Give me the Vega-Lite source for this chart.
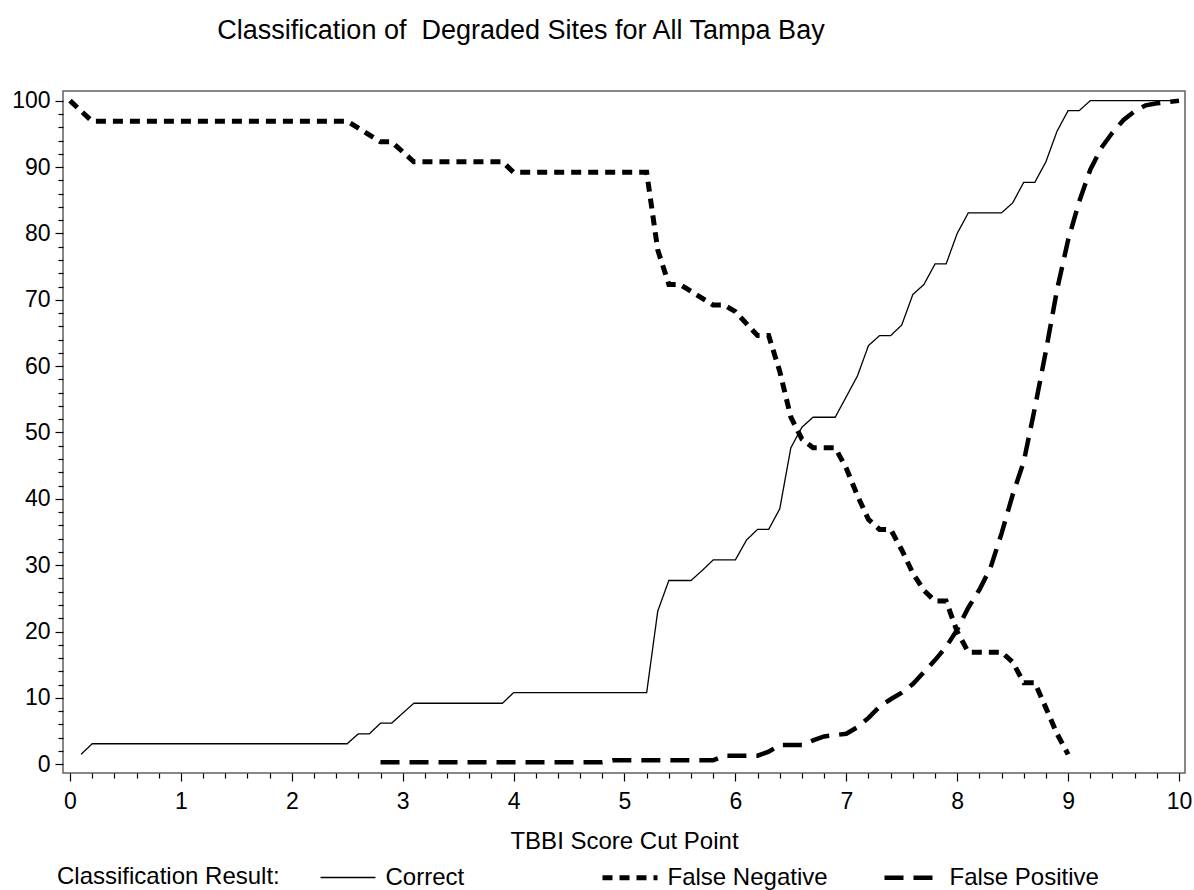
{
  "$schema": "https://vega.github.io/schema/vega-lite/v6.json",
  "autosize": {"type": "none"},
  "padding": {"left": 63, "top": 91, "right": 9, "bottom": 117},
  "width": 1122,
  "height": 682,
  "background": "white",
  "title": {
    "text": "Classification of\u00a0 Degraded Sites for All Tampa Bay",
    "font": "Liberation Sans",
    "fontSize": 27,
    "fontWeight": "normal",
    "color": "black",
    "anchor": "middle",
    "frame": "group",
    "dx": -103,
    "offset": 45
  },
  "data": {
    "values": [
      {"result": "Correct", "cut": 0.1, "pct": 1.5},
      {"result": "Correct", "cut": 0.2, "pct": 3.1},
      {"result": "Correct", "cut": 2.5, "pct": 3.1},
      {"result": "Correct", "cut": 2.6, "pct": 4.6},
      {"result": "Correct", "cut": 2.7, "pct": 4.6},
      {"result": "Correct", "cut": 2.8, "pct": 6.2},
      {"result": "Correct", "cut": 2.9, "pct": 6.2},
      {"result": "Correct", "cut": 3.0, "pct": 7.7},
      {"result": "Correct", "cut": 3.1, "pct": 9.2},
      {"result": "Correct", "cut": 3.9, "pct": 9.2},
      {"result": "Correct", "cut": 4.0, "pct": 10.8},
      {"result": "Correct", "cut": 5.2, "pct": 10.8},
      {"result": "Correct", "cut": 5.3, "pct": 23.1},
      {"result": "Correct", "cut": 5.4, "pct": 27.7},
      {"result": "Correct", "cut": 5.6, "pct": 27.7},
      {"result": "Correct", "cut": 5.7, "pct": 29.2},
      {"result": "Correct", "cut": 5.8, "pct": 30.8},
      {"result": "Correct", "cut": 6.0, "pct": 30.8},
      {"result": "Correct", "cut": 6.1, "pct": 33.8},
      {"result": "Correct", "cut": 6.2, "pct": 35.4},
      {"result": "Correct", "cut": 6.3, "pct": 35.4},
      {"result": "Correct", "cut": 6.4, "pct": 38.5},
      {"result": "Correct", "cut": 6.5, "pct": 47.7},
      {"result": "Correct", "cut": 6.6, "pct": 50.8},
      {"result": "Correct", "cut": 6.7, "pct": 52.3},
      {"result": "Correct", "cut": 6.9, "pct": 52.3},
      {"result": "Correct", "cut": 7.0, "pct": 55.4},
      {"result": "Correct", "cut": 7.1, "pct": 58.5},
      {"result": "Correct", "cut": 7.2, "pct": 63.1},
      {"result": "Correct", "cut": 7.3, "pct": 64.6},
      {"result": "Correct", "cut": 7.4, "pct": 64.6},
      {"result": "Correct", "cut": 7.5, "pct": 66.2},
      {"result": "Correct", "cut": 7.6, "pct": 70.8},
      {"result": "Correct", "cut": 7.7, "pct": 72.3},
      {"result": "Correct", "cut": 7.8, "pct": 75.4},
      {"result": "Correct", "cut": 7.9, "pct": 75.4},
      {"result": "Correct", "cut": 8.0, "pct": 80.0},
      {"result": "Correct", "cut": 8.1, "pct": 83.1},
      {"result": "Correct", "cut": 8.4, "pct": 83.1},
      {"result": "Correct", "cut": 8.5, "pct": 84.6},
      {"result": "Correct", "cut": 8.6, "pct": 87.7},
      {"result": "Correct", "cut": 8.7, "pct": 87.7},
      {"result": "Correct", "cut": 8.8, "pct": 90.8},
      {"result": "Correct", "cut": 8.9, "pct": 95.4},
      {"result": "Correct", "cut": 9.0, "pct": 98.5},
      {"result": "Correct", "cut": 9.1, "pct": 98.5},
      {"result": "Correct", "cut": 9.2, "pct": 100},
      {"result": "Correct", "cut": 10.0, "pct": 100},

      {"result": "False Negative", "cut": 0.0, "pct": 100},
      {"result": "False Negative", "cut": 0.2, "pct": 96.9},
      {"result": "False Negative", "cut": 2.5, "pct": 96.9},
      {"result": "False Negative", "cut": 2.8, "pct": 93.8},
      {"result": "False Negative", "cut": 2.9, "pct": 93.8},
      {"result": "False Negative", "cut": 3.1, "pct": 90.8},
      {"result": "False Negative", "cut": 3.9, "pct": 90.8},
      {"result": "False Negative", "cut": 4.0, "pct": 89.2},
      {"result": "False Negative", "cut": 5.2, "pct": 89.2},
      {"result": "False Negative", "cut": 5.3, "pct": 77.5},
      {"result": "False Negative", "cut": 5.4, "pct": 72.3},
      {"result": "False Negative", "cut": 5.5, "pct": 72.3},
      {"result": "False Negative", "cut": 5.8, "pct": 69.2},
      {"result": "False Negative", "cut": 5.9, "pct": 69.2},
      {"result": "False Negative", "cut": 6.0, "pct": 68.2},
      {"result": "False Negative", "cut": 6.2, "pct": 64.6},
      {"result": "False Negative", "cut": 6.3, "pct": 64.6},
      {"result": "False Negative", "cut": 6.4, "pct": 59.2},
      {"result": "False Negative", "cut": 6.5, "pct": 52.3},
      {"result": "False Negative", "cut": 6.6, "pct": 49.0},
      {"result": "False Negative", "cut": 6.7, "pct": 47.7},
      {"result": "False Negative", "cut": 6.9, "pct": 47.7},
      {"result": "False Negative", "cut": 7.0, "pct": 44.6},
      {"result": "False Negative", "cut": 7.1, "pct": 40.5},
      {"result": "False Negative", "cut": 7.2, "pct": 36.9},
      {"result": "False Negative", "cut": 7.3, "pct": 35.4},
      {"result": "False Negative", "cut": 7.4, "pct": 35.4},
      {"result": "False Negative", "cut": 7.5, "pct": 32.3},
      {"result": "False Negative", "cut": 7.6, "pct": 28.8},
      {"result": "False Negative", "cut": 7.7, "pct": 26.2},
      {"result": "False Negative", "cut": 7.8, "pct": 24.6},
      {"result": "False Negative", "cut": 7.9, "pct": 24.6},
      {"result": "False Negative", "cut": 8.0, "pct": 20.0},
      {"result": "False Negative", "cut": 8.1, "pct": 16.9},
      {"result": "False Negative", "cut": 8.4, "pct": 16.9},
      {"result": "False Negative", "cut": 8.5, "pct": 15.4},
      {"result": "False Negative", "cut": 8.6, "pct": 12.3},
      {"result": "False Negative", "cut": 8.7, "pct": 12.3},
      {"result": "False Negative", "cut": 8.8, "pct": 8.5},
      {"result": "False Negative", "cut": 8.9, "pct": 4.6},
      {"result": "False Negative", "cut": 9.0, "pct": 1.5},

      {"result": "False Positive", "cut": 2.8, "pct": 0.3},
      {"result": "False Positive", "cut": 4.8, "pct": 0.3},
      {"result": "False Positive", "cut": 4.9, "pct": 0.6},
      {"result": "False Positive", "cut": 5.8, "pct": 0.6},
      {"result": "False Positive", "cut": 5.9, "pct": 1.3},
      {"result": "False Positive", "cut": 6.2, "pct": 1.3},
      {"result": "False Positive", "cut": 6.3, "pct": 1.9},
      {"result": "False Positive", "cut": 6.4, "pct": 2.9},
      {"result": "False Positive", "cut": 6.6, "pct": 2.9},
      {"result": "False Positive", "cut": 6.7, "pct": 3.6},
      {"result": "False Positive", "cut": 6.8, "pct": 4.2},
      {"result": "False Positive", "cut": 7.0, "pct": 4.6},
      {"result": "False Positive", "cut": 7.1, "pct": 5.6},
      {"result": "False Positive", "cut": 7.2, "pct": 7.0},
      {"result": "False Positive", "cut": 7.3, "pct": 8.7},
      {"result": "False Positive", "cut": 7.4, "pct": 9.8},
      {"result": "False Positive", "cut": 7.5, "pct": 10.8},
      {"result": "False Positive", "cut": 7.6, "pct": 12.1},
      {"result": "False Positive", "cut": 7.7, "pct": 13.9},
      {"result": "False Positive", "cut": 7.8, "pct": 15.7},
      {"result": "False Positive", "cut": 7.9, "pct": 17.7},
      {"result": "False Positive", "cut": 8.0, "pct": 20.3},
      {"result": "False Positive", "cut": 8.1, "pct": 23.6},
      {"result": "False Positive", "cut": 8.2, "pct": 26.3},
      {"result": "False Positive", "cut": 8.3, "pct": 29.6},
      {"result": "False Positive", "cut": 8.4, "pct": 34.8},
      {"result": "False Positive", "cut": 8.5, "pct": 40.6},
      {"result": "False Positive", "cut": 8.6, "pct": 45.6},
      {"result": "False Positive", "cut": 8.7, "pct": 53.7},
      {"result": "False Positive", "cut": 8.8, "pct": 62.3},
      {"result": "False Positive", "cut": 8.9, "pct": 71.5},
      {"result": "False Positive", "cut": 9.0, "pct": 79.0},
      {"result": "False Positive", "cut": 9.1, "pct": 84.8},
      {"result": "False Positive", "cut": 9.2, "pct": 89.6},
      {"result": "False Positive", "cut": 9.3, "pct": 92.9},
      {"result": "False Positive", "cut": 9.4, "pct": 95.2},
      {"result": "False Positive", "cut": 9.5, "pct": 97.1},
      {"result": "False Positive", "cut": 9.6, "pct": 98.4},
      {"result": "False Positive", "cut": 9.7, "pct": 99.3},
      {"result": "False Positive", "cut": 9.8, "pct": 99.6},
      {"result": "False Positive", "cut": 9.9, "pct": 99.8},
      {"result": "False Positive", "cut": 10.0, "pct": 100}
    ]
  },
  "layer": [
    {
      "mark": {"type": "line", "color": "black", "strokeCap": "butt", "strokeJoin": "miter"},
      "encoding": {
        "x": {
          "field": "cut", "type": "quantitative",
          "scale": {"domain": [-0.063, 10.054], "nice": false, "zero": false},
          "axis": {
            "orient": "bottom",
            "values": [0, 1, 2, 3, 4, 5, 6, 7, 8, 9, 10],
            "format": "d",
            "title": "TBBI Score Cut Point",
            "titleFont": "Liberation Sans", "titleFontSize": 24, "titleFontWeight": "normal", "titleColor": "black",
            "titlePadding": 16,
            "labelFont": "Liberation Sans", "labelFontSize": 23, "labelColor": "black",
            "labelPadding": 9, "labelFlush": false, "labelOverlap": false,
            "tickSize": 8, "tickColor": "black", "tickWidth": 1.2,
            "domain": false, "grid": false
          }
        },
        "y": {
          "field": "pct", "type": "quantitative",
          "scale": {"domain": [-1.31, 101.46], "nice": false, "zero": false},
          "axis": {
            "orient": "left",
            "values": [0, 10, 20, 30, 40, 50, 60, 70, 80, 90, 100],
            "format": "d",
            "title": null,
            "labelFont": "Liberation Sans", "labelFontSize": 23, "labelColor": "black",
            "labelPadding": 5, "labelFlush": false, "labelOverlap": false,
            "tickSize": 8, "tickColor": "black", "tickWidth": 1.2,
            "domain": false, "grid": false
          }
        },
        "strokeDash": {
          "field": "result", "type": "nominal",
          "scale": {"domain": ["Correct", "False Negative", "False Positive"], "range": [[1, 0], [10, 7], [19, 10]]},
          "legend": {
            "orient": "none", "legendX": -6, "legendY": 774,
            "direction": "horizontal", "columns": 3,
            "title": "Classification Result:",
            "titleOrient": "left",
            "titleFont": "Liberation Sans", "titleFontSize": 24, "titleFontWeight": "normal", "titleColor": "black",
            "titlePadding": 38, "titleLimit": 500,
            "labelFont": "Liberation Sans", "labelFontSize": 24, "labelColor": "black", "labelLimit": 500,
            "labelOffset": 25,
            "symbolType": "M-2.75,0H2.75", "symbolSize": 400, "symbolOffset": 17.5, "symbolStrokeColor": "black",
            "gridAlign": "all", "columnPadding": 46
          }
        },
        "strokeWidth": {
          "field": "result", "type": "nominal",
          "scale": {"type": "ordinal", "domain": ["Correct", "False Negative", "False Positive"], "range": [1.3, 5, 4.5]},
          "legend": {
            "orient": "none", "legendX": -6, "legendY": 774,
            "direction": "horizontal", "columns": 3,
            "title": "Classification Result:",
            "titleOrient": "left",
            "titleFont": "Liberation Sans", "titleFontSize": 24, "titleFontWeight": "normal", "titleColor": "black",
            "titlePadding": 38, "titleLimit": 500,
            "labelFont": "Liberation Sans", "labelFontSize": 24, "labelColor": "black", "labelLimit": 500,
            "labelOffset": 25,
            "symbolType": "M-2.75,0H2.75", "symbolSize": 400, "symbolOffset": 17.5, "symbolStrokeColor": "black",
            "gridAlign": "all", "columnPadding": 46
          }
        }
      }
    },
    {
      "mark": {"type": "point", "opacity": 0},
      "encoding": {
        "x": {
          "field": "cut", "type": "quantitative",
          "axis": {
            "orient": "bottom",
            "values": [0.2, 0.4, 0.6, 0.8, 1.2, 1.4, 1.6, 1.8, 2.2, 2.4, 2.6, 2.8, 3.2, 3.4, 3.6, 3.8, 4.2, 4.4, 4.6, 4.8, 5.2, 5.4, 5.6, 5.8, 6.2, 6.4, 6.6, 6.8, 7.2, 7.4, 7.6, 7.8, 8.2, 8.4, 8.6, 8.8, 9.2, 9.4, 9.6, 9.8],
            "labels": false, "title": null, "domain": false, "grid": false,
            "tickSize": 5, "tickColor": "black", "tickWidth": 1.2
          }
        },
        "y": {
          "field": "pct", "type": "quantitative",
          "axis": {
            "orient": "left",
            "values": [2, 4, 6, 8, 12, 14, 16, 18, 22, 24, 26, 28, 32, 34, 36, 38, 42, 44, 46, 48, 52, 54, 56, 58, 62, 64, 66, 68, 72, 74, 76, 78, 82, 84, 86, 88, 92, 94, 96, 98],
            "labels": false, "title": null, "domain": false, "grid": false,
            "tickSize": 5, "tickColor": "black", "tickWidth": 1.2
          }
        }
      }
    }
  ],
  "resolve": {"axis": {"x": "independent", "y": "independent"}},
  "config": {
    "font": "Liberation Sans",
    "view": {"stroke": "#606060", "strokeWidth": 1.5}
  }
}
